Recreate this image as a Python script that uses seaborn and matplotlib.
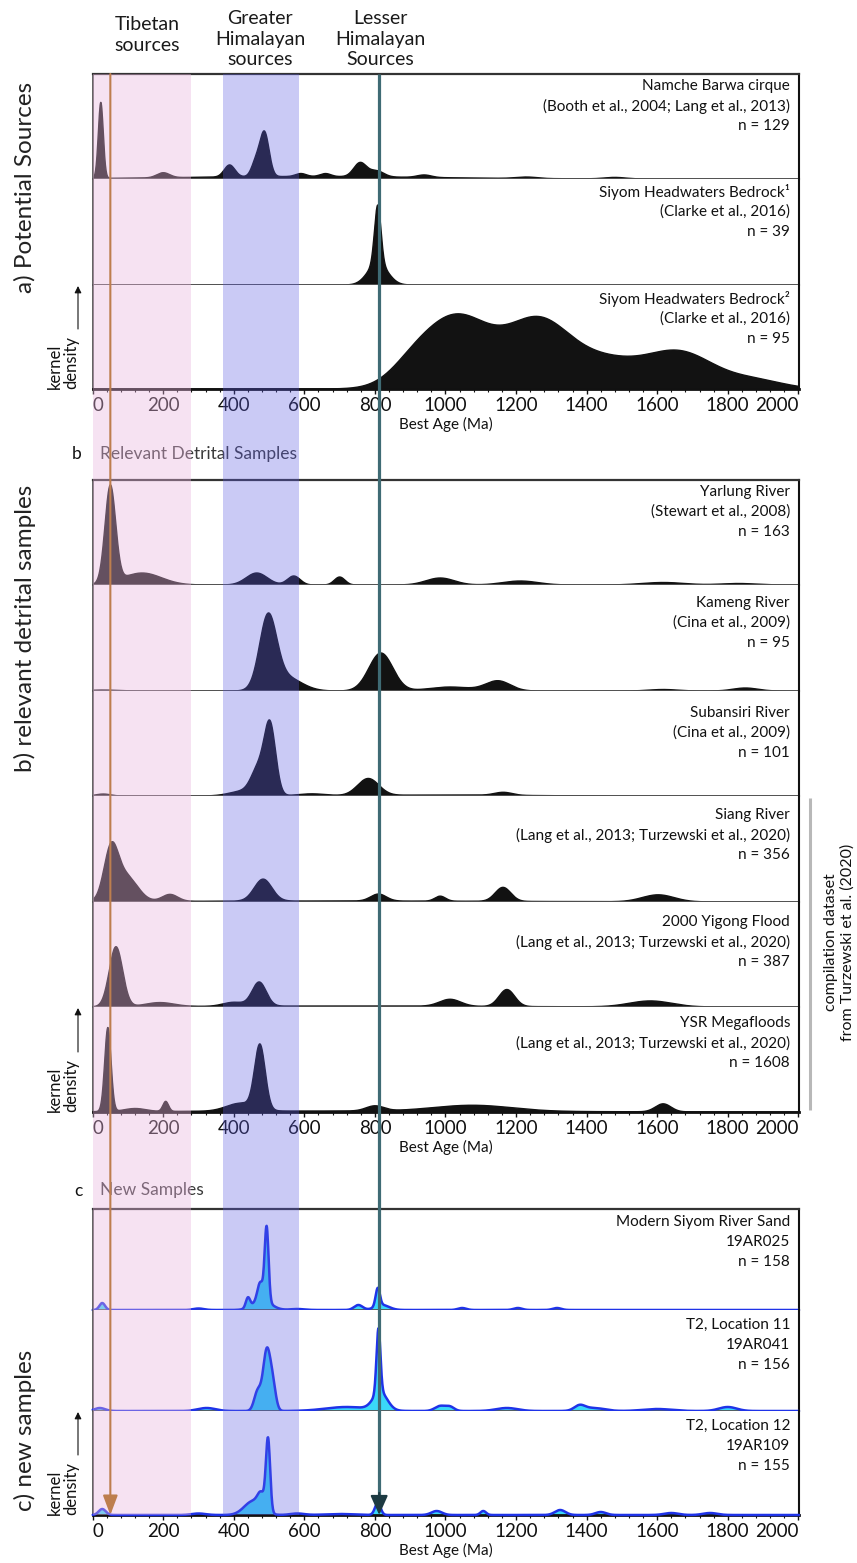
import numpy as np
import matplotlib
matplotlib.use("Agg")
import matplotlib.pyplot as plt
from matplotlib.ticker import MultipleLocator
import seaborn as sns

sns.set_theme(style="white")
plt.rcParams["font.family"] = ["Lato", "DejaVu Sans"]
plt.rcParams["patch.force_edgecolor"] = False

# ------------------------------------------------------------------
# Detrital zircon age spectra.  Each kernel density estimate is given
# by its peaks: peak age (Ma), relative peak height, peak width (Ma).
# ------------------------------------------------------------------
namche_age = [23, 200, 388, 462, 487, 590, 660, 758, 805, 940, 1230, 1480, 600]
namche_height = [76, 5, 12, 14, 44, 3, 3, 14, 6, 2.5, 1.5, 1.5, 2.5]
namche_width = [7, 18, 15, 12, 13, 15, 15, 18, 20, 20, 30, 30, 350]

siyom1_age = [808, 808]
siyom1_height = [58, 22]
siyom1_width = [9, 28]

siyom2_age = [900, 1030, 1265, 1450, 1660, 1880]
siyom2_height = [10, 72, 65, 24, 37, 8]
siyom2_width = [60, 100, 90, 90, 100, 80]

yarlung_age = [50, 140, 465, 570, 700, 985, 1212, 1617, 1830]
yarlung_height = [97, 12, 12, 9, 8, 7, 4, 2.5, 1.5]
yarlung_width = [15, 55, 30, 18, 15, 40, 50, 60, 50]

kameng_age = [497, 545, 817, 1013, 1149, 1617, 1850, 30]
kameng_height = [70, 14, 38, 4, 10, 1.5, 3, 1]
kameng_width = [24, 45, 34, 60, 35, 40, 35, 40]

subansiri_age = [503, 470, 430, 781, 30, 620, 1164, 1000]
subansiri_height = [68, 25, 5, 17, 2, 2, 3, 1]
subansiri_width = [16, 20, 40, 30, 20, 40, 25, 200]

siang_age = [52, 95, 219, 483, 810, 985, 1163, 1603, 700]
siang_height = [49, 25, 7, 22, 7, 5, 14, 7, 1]
siang_width = [20, 32, 22, 25, 22, 15, 22, 45, 500]

yigong_age = [66, 190, 400, 472, 1013, 1174, 1581, 700]
yigong_height = [60, 4, 4, 24, 7, 17, 6, 1]
yigong_width = [19, 40, 30, 20, 30, 22, 60, 400]

ysr_age = [43, 120, 207, 474, 420, 800, 1078, 1617, 700]
ysr_height = [84, 3, 10, 64, 8, 5, 6, 8, 1]
ysr_width = [9, 30, 8, 15, 40, 25, 110, 22, 500]

ar025_age = [27, 300, 440, 475, 480, 493, 580, 753, 808, 820, 1047, 1205, 1316]
ar025_height = [7, 1.5, 10, 18, 10, 74, 1, 5, 18, 5, 2, 2, 2]
ar025_width = [8, 15, 6, 8, 25, 5.5, 20, 12, 6, 20, 12, 12, 12]

ar041_age = [20, 323, 468, 493, 510, 720, 810, 815, 985, 1013, 1174, 1380, 1420, 1600, 1800]
ar041_height = [3, 3, 20, 58, 25, 4, 64, 18, 5, 4, 3, 5, 3, 2, 4]
ar041_width = [15, 25, 10, 10, 9, 60, 5.5, 20, 15, 12, 30, 15, 30, 40, 25]

ar109_age = [27, 300, 455, 478, 497, 580, 700, 808, 975, 1107, 1325, 1440, 1640, 1750]
ar109_height = [6, 1.5, 14, 14, 72, 1.5, 1, 12, 4, 4, 5, 3, 2, 2]
ar109_width = [10, 20, 25, 10, 6, 20, 40, 8, 15, 8, 15, 15, 20, 20]

# Sample captions (three lines each)
labels_a = [
    ["Namche Barwa cirque", "(Booth et al., 2004; Lang et al., 2013)", "n = 129"],
    ["Siyom Headwaters Bedrock\u00b9", "(Clarke et al., 2016)", "n = 39"],
    ["Siyom Headwaters Bedrock\u00b2", "(Clarke et al., 2016)", "n = 95"],
]
labels_b = [
    ["Yarlung River", "(Stewart et al., 2008)", "n = 163"],
    ["Kameng River", "(Cina et al., 2009)", "n = 95"],
    ["Subansiri River", "(Cina et al., 2009)", "n = 101"],
    ["Siang River", "(Lang et al., 2013; Turzewski et al., 2020)", "n = 356"],
    ["2000 Yigong Flood", "(Lang et al., 2013; Turzewski et al., 2020)", "n = 387"],
    ["YSR Megafloods", "(Lang et al., 2013; Turzewski et al., 2020)", "n = 1608"],
]
labels_c = [
    ["Modern Siyom River Sand", "19AR025", "n = 158"],
    ["T2, Location 11", "19AR041", "n = 156"],
    ["T2, Location 12", "19AR109", "n = 155"],
]

tick_ages = list(range(0, 2001, 200))
tibetan_band = (0, 278)
greater_band = (370, 585)
tibetan_ref_age = 50
lesser_ref_age = 812

# ------------------------------------------------------------------
W, H = 857, 1563
fig = plt.figure(figsize=(W / 100, H / 100), dpi=100)
fig.patch.set_facecolor("white")

X_LEFT, X_RIGHT = 92.7, 799.0
XMAX = 2002

grid = np.arange(0, XMAX + 0.5, 1.0)


def kde_curve(ages, heights, widths):
    a = np.asarray(ages, float)[:, None]
    h = np.asarray(heights, float)[:, None]
    w = np.asarray(widths, float)[:, None]
    return (h * np.exp(-0.5 * ((grid[None, :] - a) / w) ** 2)).sum(axis=0)


def fig_rect(top_px, bot_px):
    return [X_LEFT / W, 1 - bot_px / H, (X_RIGHT - X_LEFT) / W, (bot_px - top_px) / H]


def ftext(x, y, s, **kw):
    return fig.text(x / W, 1 - y / H, s, **kw)


BLACK = "#121212"
LINE_BLUE = "#1f33e8"
FILL_CYAN = "#3ad8f8"

panels = [
    dict(edges=[74, 179, 285, 389],
         data=[(namche_age, namche_height, namche_width),
               (siyom1_age, siyom1_height, siyom1_width),
               (siyom2_age, siyom2_height, siyom2_width)],
         labels=labels_a, offs=[12, 13, 14], style="black"),
    dict(edges=[480, 585, 691, 796, 902, 1007, 1112],
         data=[(yarlung_age, yarlung_height, yarlung_width),
               (kameng_age, kameng_height, kameng_width),
               (subansiri_age, subansiri_height, subansiri_width),
               (siang_age, siang_height, siang_width),
               (yigong_age, yigong_height, yigong_width),
               (ysr_age, ysr_height, ysr_width)],
         labels=labels_b, offs=[12, 18, 22, 19, 20, 16], style="black"),
    dict(edges=[1209, 1310, 1411, 1515],
         data=[(ar025_age, ar025_height, ar025_width),
               (ar041_age, ar041_height, ar041_width),
               (ar109_age, ar109_height, ar109_width)],
         labels=labels_c, offs=[13, 15, 15], style="blue"),
]

for panel in panels:
    edges = panel["edges"]
    nrows = len(edges) - 1
    for i in range(nrows):
        top, bot = edges[i], edges[i + 1]
        ax = fig.add_axes(fig_rect(top, bot), zorder=1)
        ax.set_facecolor("white")
        dens = kde_curve(*panel["data"][i])
        if panel["style"] == "black":
            ax.fill_between(grid, 0, dens, facecolor=BLACK, edgecolor="none",
                            linewidth=0, zorder=2)
            sns.lineplot(x=grid, y=dens, ax=ax, color=BLACK, lw=1.0, zorder=3)
        else:
            ax.fill_between(grid, 0, dens, facecolor=FILL_CYAN, edgecolor="none",
                            linewidth=0, zorder=2)
            sns.lineplot(x=grid, y=dens, ax=ax, color=LINE_BLUE, lw=1.8, zorder=5,
                         clip_on=False)
        ax.set_xlim(0, XMAX)
        ax.set_ylim(0, bot - top)
        ax.set_ylabel("")
        ax.set_yticks([])
        for side in ("left", "right", "top", "bottom"):
            ax.spines[side].set_visible(True)
            ax.spines[side].set_zorder(4)
        ax.spines["left"].set_color("#555555")
        ax.spines["left"].set_linewidth(1.3)
        ax.spines["right"].set_color("#111111")
        ax.spines["right"].set_linewidth(1.5)
        if i == 0:
            ax.spines["top"].set_color("#333333")
            ax.spines["top"].set_linewidth(1.6)
        else:
            ax.spines["top"].set_visible(False)
        if i == nrows - 1:
            ax.spines["bottom"].set_color("#111111")
            ax.spines["bottom"].set_linewidth(2.0)
            ax.set_xticks(tick_ages)
            ax.xaxis.set_minor_locator(MultipleLocator(40))
            ax.tick_params(axis="x", which="major", bottom=True, direction="out",
                           length=3.8, width=1.0, labelsize=13.5, pad=2,
                           colors="#111111")
            ax.tick_params(axis="x", which="minor", bottom=True, direction="out",
                           length=2.3, width=0.8, colors="#111111")
            tl = ax.set_xticklabels([str(t) for t in tick_ages])
            tl[0].set_ha("left")
            tl[-1].set_ha("right")
            ax.set_xlabel("Best Age (Ma)", fontsize=11, labelpad=2, color="#111111")
        else:
            ax.spines["bottom"].set_color("#555555")
            ax.spines["bottom"].set_linewidth(1.3)
            ax.set_xticks([])
            ax.set_xlabel("")
        # caption
        for k, line in enumerate(panel["labels"][i]):
            ftext(790, top + panel["offs"][i] + 20 * k, line, ha="right",
                  va="center", fontsize=11, color="#111111", zorder=4)

# Section headings between panels
ftext(77, 454, "b", fontsize=12.5, va="center", ha="center", color="#111111")
ftext(100, 454, "Relevant Detrital Samples", fontsize=12.5, va="center",
      color="#3a3a3a")
ftext(78, 1191, "c", fontsize=12.5, va="center", ha="center", color="#111111")
ftext(100, 1190, "New Samples", fontsize=12.5, va="center", color="#3a3a3a")

# Source band overlay with reference ages
ax_band = fig.add_axes(fig_rect(74, 1515), zorder=5)
ax_band.set_xlim(0, XMAX)
ax_band.set_ylim(0, 1)
ax_band.axis("off")
ax_band.patch.set_alpha(0)
ax_band.axvspan(*tibetan_band, facecolor=(0.917, 0.704, 0.875), alpha=0.385,
                edgecolor="none", lw=0)
ax_band.axvspan(*greater_band, facecolor=(0.362, 0.362, 0.89), alpha=0.326,
                edgecolor="none", lw=0)

head = 17 / (1515 - 74)
ax_band.annotate("", xy=(tibetan_ref_age, 0), xytext=(tibetan_ref_age, 1),
                 arrowprops=dict(arrowstyle="-|>,head_length=0.85,head_width=0.32",
                                 color="#bd7e4e", lw=1.5, mutation_scale=14,
                                 shrinkA=0, shrinkB=0), zorder=6)
ax_band.plot([lesser_ref_age, lesser_ref_age], [head * 0.5, 1], color="#3f6b74",
             lw=2.3, zorder=6, solid_capstyle="butt")
ax_band.annotate("", xy=(lesser_ref_age, 0), xytext=(lesser_ref_age, head * 1.3),
                 arrowprops=dict(arrowstyle="-|>,head_length=0.85,head_width=0.38",
                                 color="#1d3a42", lw=1.5, mutation_scale=14,
                                 shrinkA=0, shrinkB=0), zorder=7)

# Column headings
head_kw = dict(ha="center", va="center", fontsize=14, color="#1a1a1a",
               linespacing=1.25)
ftext(147, 35, "Tibetan\nsources", **head_kw)
ftext(260, 39, "Greater\nHimalayan\nsources", **head_kw)
ftext(380, 39, "Lesser\nHimalayan\nSources", **head_kw)

# Panel titles on the left
side_kw = dict(rotation=90, ha="center", va="center", fontsize=17.5, color="#222222")
ftext(25, 187, "a) Potential Sources", **side_kw)
ftext(25, 628, "b) relevant detrital samples", **side_kw)
ftext(25, 1430, "c) new samples", **side_kw)

# Pixel-space overlay for the density arrows and the compilation bracket
ax_px = fig.add_axes([0, 0, 1, 1], zorder=8)
ax_px.set_xlim(0, W)
ax_px.set_ylim(H, 0)
ax_px.axis("off")
ax_px.patch.set_alpha(0)
for bottom_px, top_px in [(389, 285), (1112, 1007), (1515, 1411)]:
    ax_px.text(63, bottom_px, "kernel\ndensity", rotation=90, ha="center",
               va="bottom", multialignment="left", fontsize=12,
               color="#111111", linespacing=1.0)
    ax_px.annotate("", xy=(78, top_px + 1), xytext=(78, bottom_px - 60),
                   arrowprops=dict(arrowstyle="-|>,head_length=0.5,head_width=0.25",
                                   color="#111111", lw=0.8, mutation_scale=8,
                                   shrinkA=0, shrinkB=0))

ax_px.plot([810, 810], [798, 1110], color="#b8b8b8", lw=2.2,
           solid_capstyle="butt")
ax_px.text(839, 942, "compilation dataset\nfrom Turzewski et al. (2020)",
           rotation=90, ha="center", va="center", fontsize=11.5,
           color="#111111", linespacing=1.2)

fig.savefig("out.png", dpi=100)
